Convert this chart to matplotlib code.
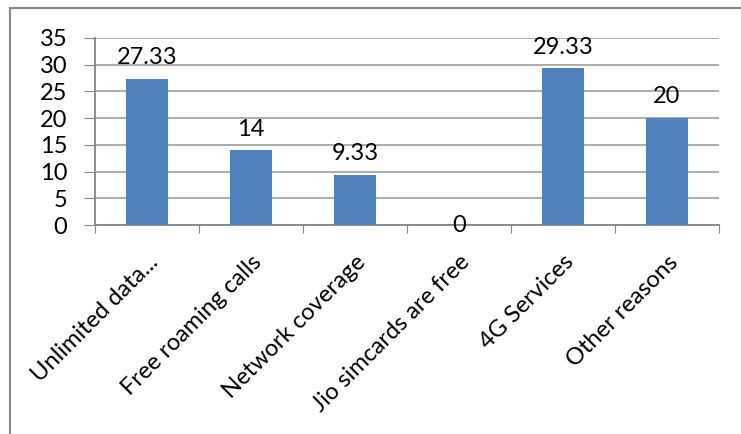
import numpy as np
import matplotlib.pyplot as plt
from matplotlib.lines import Line2D

# reasons for choosing jio (percent of respondents)
reasons = ["Unlimited data...", "Free roaming calls", "Network coverage",
           "Jio simcards are free", "4G Services", "Other reasons"]
percent = [27.33, 14, 9.33, 0, 29.33, 20]
labels = ["27.33", "14", "9.33", "0", "29.33", "20"]

plt.rcParams['font.family'] = ['Lato', 'DejaVu Sans']
fs = 17

fig = plt.figure(figsize=(7.41, 4.34), dpi=100)
ax = fig.add_axes([95/741, 1-225/434, 624/741, 187/434])

x = np.arange(len(reasons))
ax.bar(x, percent, width=0.4, color='#4F81BD', zorder=3)

#value labels above each bar (a zero bar gets its label on the axis)
for xi, v, t in zip(x, percent, labels):
    if v == 0:
        ax.text(xi, v, t, ha='center', va='center', fontsize=fs, zorder=4)
    else:
        ax.text(xi, v + 2.0, t, ha='center', va='bottom', fontsize=fs, zorder=4)

ax.set_xlim(-0.5, len(reasons) - 0.5)
ax.set_ylim(0, 35)
ax.set_yticks(range(0, 36, 5))
ax.tick_params(axis='y', labelsize=fs, length=8, color='#868686', pad=12)
ax.yaxis.grid(True, color='#A6A6A6', lw=1.3, zorder=0)

#category ticks sit on the boundaries, names sit at the centres
ax.set_xticks(np.arange(-0.5, len(reasons)), minor=False)
ax.set_xticklabels([])
ax.tick_params(axis='x', length=6, color='#868686')
ax.set_xticks(x, minor=True)
ax.set_xticklabels(reasons, minor=True, rotation=45, ha='right',
                   rotation_mode='anchor', fontsize=fs)
ax.tick_params(axis='x', which='minor', length=0, pad=19)

for s in ['top', 'right']:
    ax.spines[s].set_visible(False)
for s in ['left', 'bottom']:
    ax.spines[s].set_color('#868686')
    ax.spines[s].set_linewidth(1.3)

#outer chart border (left and top only)
fig.add_artist(Line2D([10/741, 10/741], [0, 1-8/434], color='#868686', lw=1.5))
fig.add_artist(Line2D([10/741, 1], [1-8/434, 1-8/434], color='#868686', lw=1.5))

fig.savefig('out.png', dpi=100)
